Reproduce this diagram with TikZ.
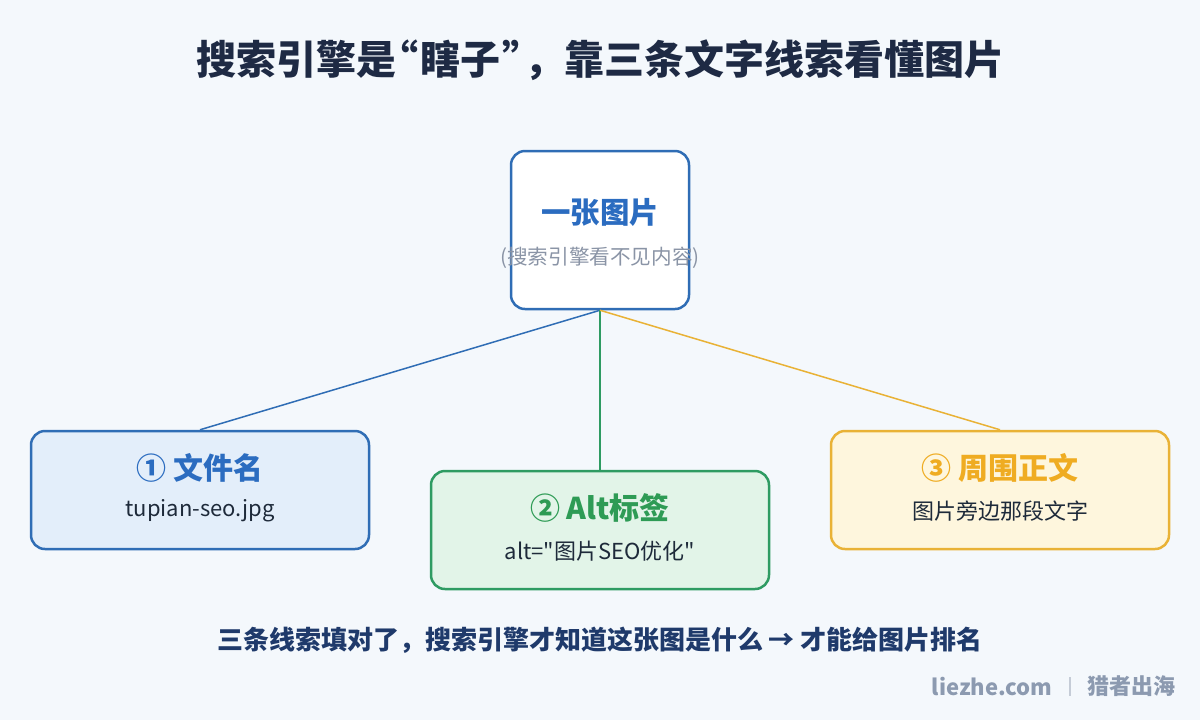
\documentclass[tikz,border=0pt]{standalone}
\usepackage{fontspec}
\setmainfont{Noto Sans CJK SC}
\newfontfamily\rawfont{Noto Sans CJK SC}[Ligatures=TeXOff]
\definecolor{bg}{HTML}{F4F8FC}
\definecolor{navy}{HTML}{1E2A44}
\definecolor{navyb}{HTML}{1F3A6B}
\definecolor{blueb}{HTML}{2F6DB5}
\definecolor{bluet}{HTML}{2B6CC0}
\definecolor{bluef}{HTML}{E3EEFA}
\definecolor{greenb}{HTML}{2E9B62}
\definecolor{greent}{HTML}{2E9B55}
\definecolor{greenf}{HTML}{E2F4E8}
\definecolor{goldb}{HTML}{E9B236}
\definecolor{goldt}{HTML}{EFAC22}
\definecolor{goldf}{HTML}{FEF6DD}
\definecolor{greyt}{HTML}{8A94A6}
\definecolor{wm}{HTML}{8C9AB0}
\definecolor{bodyt}{HTML}{1E2A3A}
\begin{document}
\begin{tikzpicture}[x=0.5pt,y=-0.5pt,
  card/.style={draw, line width=1.25pt, rounded corners=7pt, minimum width=169pt, minimum height=59pt, inner sep=0pt},
  cardtitle/.style={font=\fontsize{15}{17}\selectfont\bfseries, inner sep=0pt},
  cardtext/.style={font=\fontsize{11}{13}\selectfont, text=bodyt, inner sep=0pt},
  link/.style={line width=0.75pt}]
\useasboundingbox[fill=bg] (0,0) rectangle (1200,720);
\node[font=\fontsize{20}{24}\selectfont\bfseries, text=navy, inner sep=0pt] (title) at (600,60) {搜索引擎是\kern-0.45em“\kern0.05em瞎子\kern0.05em”\kern-0.45em，靠三条文字线索看懂图片};
% main box
\node[draw=blueb, fill=white, line width=1.25pt, rounded corners=7pt, minimum width=89pt, minimum height=79pt, inner sep=0pt] (img) at (600,230) {};
\node[font=\fontsize{14.7}{16}\selectfont\bfseries, text=bluet, inner sep=0pt] (imgt) at (600,212) {一张图片};
\node[font=\fontsize{10.3}{12}\selectfont, text=greyt, inner sep=0pt] (imgs) at (600,258) {(搜索引擎看不见内容)};
% cards
\node[card, draw=blueb, fill=bluef] (c1) at (200,490) {};
\node[card, draw=greenb, fill=greenf] (c2) at (600,530) {};
\node[card, draw=goldb, fill=goldf] (c3) at (1000,490) {};
\node[cardtitle, text=bluet] (c1t) at (200,468) {① 文件名};
\node[cardtext] (c1s) at (200,511) {tupian-seo.jpg};
\node[cardtitle, text=greent] (c2t) at (600,508) {② Alt标签};
\node[cardtext, font=\fontsize{11}{13}\rawfont] (c2s) at (600,551) {alt="图片SEO优化"};
\node[cardtitle, text=goldt] (c3t) at (1000,468) {③ 周围正文};
\node[cardtext] (c3s) at (1000,511) {图片旁边那段文字};
% connectors
\draw[link, draw=blueb] (img.south) -- (c1.north);
\draw[link, draw=greenb] (img.south) -- (c2.north);
\draw[link, draw=goldb] (img.south) -- (c3.north);
% footer
\node[font=\fontsize{13}{15}\selectfont\bfseries, text=navyb, inner sep=0pt] (foot) at (600,640) {三条线索填对了，搜索引擎才知道这张图是什么 → 才能给图片排名};
\node[font=\fontsize{11}{13}\selectfont\bfseries, text=wm, inner sep=0pt, anchor=east] (wm1) at (1053,686) {liezhe.com};
\node[font=\fontsize{11}{13}\selectfont\bfseries, text=wm, inner sep=0pt, anchor=west] (wm2) at (1087,686) {猎者出海};
\draw[draw=wm!50, line width=0.6pt] (1070,677) -- (1070,696);
\end{tikzpicture}
\end{document}
